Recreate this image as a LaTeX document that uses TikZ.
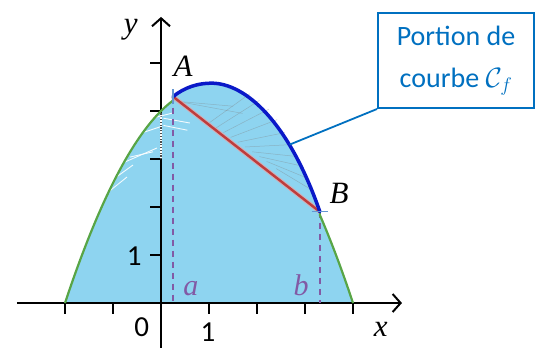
\RequirePackage{fix-cm}
\documentclass[tikz,border=0pt]{standalone}
\usepackage{fontspec}
\newfontfamily\calib{Carlito}
\newfontfamily\timesit{Liberation Serif}
\usetikzlibrary{arrows.meta,calc}
\definecolor{fillblue}{RGB}{142,212,240}
\definecolor{curvegreen}{RGB}{88,165,70}
\definecolor{arcblue}{RGB}{10,25,200}
\definecolor{boxblue}{RGB}{0,112,192}
\definecolor{chordred}{RGB}{190,60,60}
\definecolor{chordpink}{RGB}{235,160,160}
\definecolor{dashpurple}{RGB}{130,90,165}
\definecolor{markblue}{RGB}{100,150,210}
\tikzset{
  axisline/.style={line width=2pt, black},
  tickline/.style={line width=2pt, black},
  axisarrow/.style={-{Straight Barb[length=8pt,width=18pt,line width=2pt]}},
  dashline/.style={dashpurple, line width=1.8pt, dash pattern=on 6pt off 5pt},
  greencurve/.style={curvegreen, line width=2.2pt},
  fanline/.style={gray, opacity=0.4, line width=0.5pt},
  whiteline/.style={white, line width=0.9pt, opacity=0.9},
  ptlabel/.style={font=\timesit\fontsize{31}{31}\selectfont\itshape, inner sep=0pt},
  axlabel/.style={font=\timesit\fontsize{31}{31}\selectfont\itshape, inner sep=0pt},
  endlabel/.style={font=\timesit\fontsize{30}{30}\selectfont\itshape, text=dashpurple, inner sep=0pt},
  numlabel/.style={font=\calib\fontsize{29}{29}\selectfont, inner sep=0pt},
  marker/.style={markblue, line width=1.2pt},
  calloutbox/.style={draw=boxblue, line width=2pt, text=boxblue, align=center,
    minimum width=156pt, minimum height=95pt, inner sep=0pt,
    font=\calib\fontsize{28}{42}\selectfont}
}
\begin{document}
\begin{tikzpicture}[x=48pt,y=48pt]
\useasboundingbox (-3.354,-0.917) rectangle (8.083,6.3125);
\coordinate (A) at (0.25,4.3);
\coordinate (B) at (3.31,1.9);
\coordinate (P) at (1.05,4.58);
\coordinate (C) at (2.68,3.30);
% filled region
\fill[fillblue] (-2,0) -- plot[domain=-2:0.25, samples=40] (\x,{-0.5*\x*\x+\x+4})
  -- (A) .. controls (0.5,4.5) and (0.78,4.58) .. (P)
  .. controls (1.75,4.58) and (2.65,3.8) .. (B)
  -- plot[domain=3.31:4, samples=20] (\x,{-0.5*\x*\x+\x+4}) -- cycle;
% faint fan lines between chord and arc
\foreach \u/\v/\s/\t in {1.0/3.75/1.85/4.36, 1.15/3.65/2.05/4.22, 1.3/3.55/2.25/4.04,
   1.45/3.45/2.42/3.82, 1.6/3.35/2.58/3.55, 1.75/3.25/2.72/3.3, 1.9/3.15/2.85/3.05,
   2.05/3.05/2.95/2.85, 2.2/2.95/3.05/2.6, 2.4/2.8/3.15/2.35, 0.35/4.2/1.5/4.1, 0.35/4.2/1.7/3.95}
  \draw[fanline] (\u,\v) -- (\s,\t);
% axes
\draw[axisline, axisarrow] (-3.0,0) -- (5.02,0);
\draw[axisline, axisarrow] (0,-1) -- (0,5.96);
% ticks
\foreach \k in {-2,-1,1,2,3,4} \draw[tickline] (\k,0) -- (\k,-0.23);
\foreach \k in {1,2,3,4,5} \draw[tickline] (0,\k) -- (-0.22,\k);
% white streaks
\draw[white, line width=2.4pt] (0,2.99) -- (0,3.95);
\draw[black!70, line width=1.2pt, dash pattern=on 1.2pt off 1.6pt] (0,2.99) -- (0,3.95);
\foreach \p/\q/\r/\s in {-0.583/3.75/0.25/3.96, -0.708/3.44/-0.02/3.67,
   -0.646/3.04/-0.167/3.15, -0.792/2.92/-0.083/3.23, -1.02/2.56/-0.583/2.875,
   -1.125/2.29/-0.708/2.625, 0.05/3.85/0.6/3.75, 0.05/3.7/0.55/3.6}
  \draw[whiteline] (\p,\q) -- (\r,\s);
% dashed lines
\draw[dashline] (A) -- (0.25,0);
\draw[dashline] (B) -- (3.31,0);
% green parabola
\draw[greencurve] plot[domain=-2:0.25, samples=40] (\x,{-0.5*\x*\x+\x+4}) -- (A);
\draw[greencurve] (B) -- plot[domain=3.31:4, samples=20] (\x,{-0.5*\x*\x+\x+4});
% chord
\draw[chordpink, line width=4.5pt, opacity=0.7] (A) -- (B);
\draw[chordred, line width=2.4pt] (A) -- (B);
% blue arc
\draw[arcblue, line width=3.5pt, line cap=round] (A) .. controls (0.5,4.5) and (0.78,4.58) .. (P)
  .. controls (1.75,4.58) and (2.65,3.8) .. (B);
% markers
\draw[marker] ($(A)+(0,-0.15)$) -- ($(A)+(0,0.15)$);
\draw[marker] ($(B)+(-0.17,0)$) -- ($(B)+(0.17,0)$);
% labels
\node[axlabel] (ylab) at (-0.63,5.70) {y};
\node[axlabel] (xlab) at (4.58,-0.55) {x};
\node[ptlabel] (Alab) at (0.46,4.93) {A};
\node[ptlabel] (Blab) at (3.71,2.28) {B};
\node[endlabel] (alab) at (0.62,0.30) {a};
\node[endlabel] (blab) at (2.92,0.38) {b};
\node[numlabel] (zero) at (-0.40,-0.50) {0};
\node[numlabel] (onex) at (0.98,-0.60) {1};
\node[numlabel] (oney) at (-0.56,0.97) {1};
% callout
\node[calloutbox] (box) at (6.146,5.052) {Portion de\\courbe $\mathcal{C}_f$};
\draw[boxblue, line width=1.8pt] (box.south west) -- (C);
\end{tikzpicture}
\end{document}
